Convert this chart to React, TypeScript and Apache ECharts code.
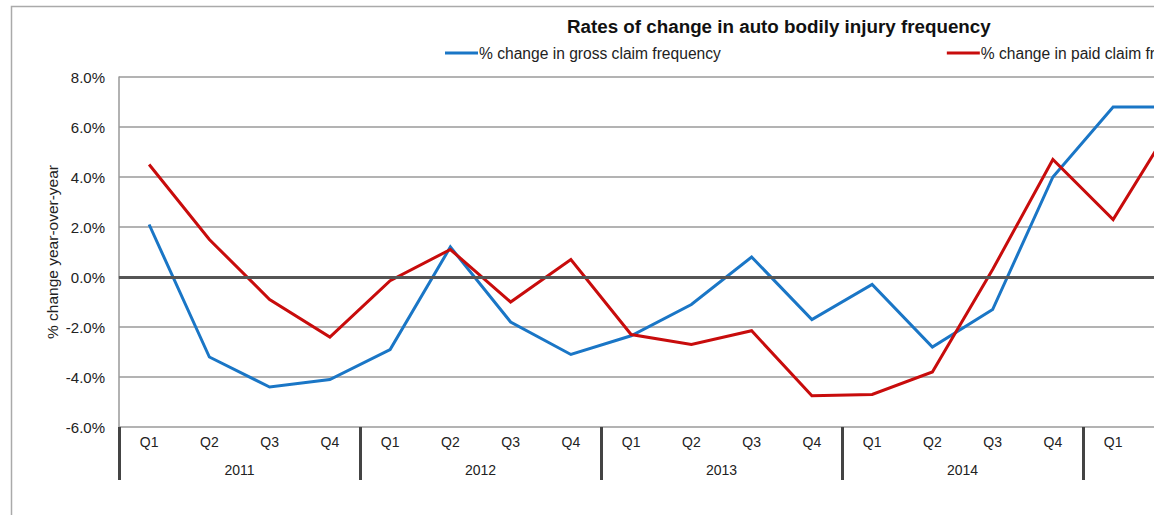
import React, { useEffect, useRef } from "react";
import * as echarts from "echarts";

// Quarterly year-over-year change in auto bodily injury claim frequency (%)
const years = ["2011", "2012", "2013", "2014", "2015"];
const quarters = ["Q1", "Q2", "Q3", "Q4"];

const grossClaimChange: (number | null)[] = [
  2.1, -3.2, -4.4, -4.1,
  -2.9, 1.2, -1.8, -3.1,
  -2.35, -1.1, 0.8, -1.7,
  -0.3, -2.8, -1.3, 4.0,
  6.8, 6.8, null, null,
];

const paidClaimChange: (number | null)[] = [
  4.5, 1.5, -0.9, -2.4,
  -0.15, 1.1, -1.0, 0.7,
  -2.3, -2.7, -2.15, -4.75,
  -4.7, -3.8, 0.3, 4.7,
  2.3, 6.2, null, null,
];

const yTicks = { min: -6, max: 8, step: 2 };

const seriesNames = [
  "% change in gross claim frequency",
  "% change in paid claim frequency",
];

const TITLE = "Rates of change in auto bodily injury frequency";
const Y_NAME = "% change year-over-year";

const FONT = "'Liberation Sans', Arial, Helvetica, sans-serif";
const CHART_W = 1440;
const CHART_H = 515;
const BAND = 60.25;
const GRID_LEFT = 119;

export default function App() {
  const ref = useRef<HTMLDivElement>(null);

  useEffect(() => {
    if (!ref.current) return;
    const chart = echarts.init(ref.current, undefined, { renderer: "svg" });

    const quarterLabels: string[] = [];
    years.forEach(() => quarters.forEach((q) => quarterLabels.push(q)));
    const plotWidth = quarterLabels.length * BAND;

    chart.setOption({
      animation: false,
      backgroundColor: "#ffffff",
      textStyle: { fontFamily: FONT },
      title: {
        text: TITLE,
        left: 562,
        top: 12,
        textStyle: { fontSize: 18.8, fontWeight: "bold", color: "#111", fontFamily: FONT },
      },
      legend: {
        left: 440,
        top: 40,
        icon: "rect",
        itemWidth: 33,
        itemHeight: 3,
        itemGap: 226,
        textStyle: { fontSize: 15.6, color: "#222", fontFamily: FONT, padding: [0, 0, 0, -4] },
        data: seriesNames,
      },
      graphic: [
        {
          type: "rect",
          left: 9,
          top: 4,
          silent: true,
          z: -10,
          shape: { width: 2000, height: 1000 },
          style: { fill: "none", stroke: "#aaaaaa", lineWidth: 1.5 },
        },
      ],
      grid: {
        left: GRID_LEFT,
        top: 77,
        bottom: CHART_H - 427,
        right: CHART_W - GRID_LEFT - plotWidth,
      },
      xAxis: [
        {
          type: "category",
          data: quarterLabels,
          boundaryGap: true,
          axisLine: { show: true, lineStyle: { color: "#999", width: 1.5 } },
          axisTick: { show: false },
          axisLabel: { interval: 0, margin: 8, fontSize: 14, color: "#222", fontFamily: FONT },
          splitLine: { show: false },
        },
        {
          type: "category",
          data: years,
          position: "bottom",
          boundaryGap: true,
          axisLine: { show: false },
          axisTick: {
            show: true,
            interval: 0,
            length: 53,
            lineStyle: { color: "#444", width: 3 },
          },
          axisLabel: { interval: 0, margin: 36, fontSize: 14, color: "#222", fontFamily: FONT },
          splitLine: { show: false },
        },
      ],
      yAxis: {
        type: "value",
        min: yTicks.min,
        max: yTicks.max,
        interval: yTicks.step,
        name: Y_NAME,
        nameLocation: "middle",
        nameGap: 59,
        nameMoveOverlap: false,
        nameTextStyle: { fontSize: 15.5, color: "#222", fontFamily: FONT },
        axisLine: { show: true, lineStyle: { color: "#999", width: 1.5 } },
        axisTick: { show: false },
        axisLabel: {
          margin: 14,
          fontSize: 15,
          color: "#222",
          fontFamily: FONT,
          formatter: (v: number) => v.toFixed(1) + "%",
        },
        splitLine: { show: true, lineStyle: { color: "#9a9a9a", width: 1.5 } },
      },
      series: [
        {
          name: "zero",
          type: "line",
          data: [],
          z: 1,
          silent: true,
          markLine: {
            silent: true,
            symbol: ["none", "none"],
            label: { show: false },
            lineStyle: { color: "#555", width: 3, type: "solid" },
            data: [{ yAxis: 0 }],
          },
        },
        {
          name: seriesNames[0],
          type: "line",
          data: grossClaimChange,
          z: 3,
          showSymbol: false,
          symbol: "none",
          color: "#1a76c6",
          lineStyle: { color: "#1a76c6", width: 3, join: "miter" },
        },
        {
          name: seriesNames[1],
          type: "line",
          data: paidClaimChange,
          z: 3,
          showSymbol: false,
          symbol: "none",
          color: "#c80c0c",
          lineStyle: { color: "#c80c0c", width: 3, join: "miter" },
        },
      ],
    });

    return () => chart.dispose();
  }, []);

  return (
    <div
      style={{
        position: "absolute",
        left: 0,
        top: 0,
        width: 1154,
        height: CHART_H,
        overflow: "hidden",
        background: "#ffffff",
      }}
    >
      <div ref={ref} style={{ width: CHART_W, height: CHART_H }} />
    </div>
  );
}
